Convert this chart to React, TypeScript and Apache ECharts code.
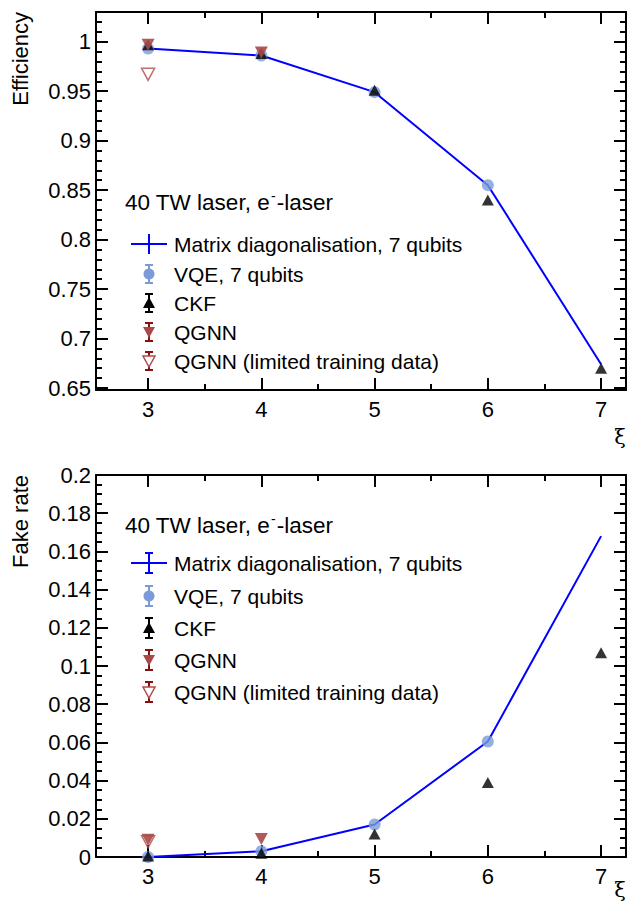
import React, { useEffect, useRef } from 'react';
import * as echarts from 'echarts';

// ---- data ----
const xiValues = [3, 4, 5, 6, 7];
const effMatrix = [0.993, 0.986, 0.949, 0.855, 0.674];
const effVQE = [0.993, 0.986, 0.949, 0.855];
const effCKF = [0.997, 0.988, 0.951, 0.84, 0.67];
const effQGNN = [0.997, 0.989];
const effQGNNLimited = [0.967];
const fakeMatrix = [0.0, 0.003, 0.017, 0.0605, 0.168];
const fakeVQE = [0.0, 0.003, 0.017, 0.0605];
const fakeCKF = [0.0005, 0.002, 0.012, 0.039, 0.107];
const fakeQGNN = [0.009, 0.0094];
const fakeQGNNLimited = [0.008];

// ---- ticks ----
const xMajor = [3, 4, 5, 6, 7];
const xMinor = [3.5, 4.5, 5.5, 6.5];
const effMajor = [0.65, 0.7, 0.75, 0.8, 0.85, 0.9, 0.95, 1];
const fakeMajor = [0, 0.02, 0.04, 0.06, 0.08, 0.1, 0.12, 0.14, 0.16, 0.18, 0.2];

const X_MIN = 2.54;
const X_MAX = 7.22;
const EFF_MIN = 0.648;
const EFF_MAX = 1.03;
const FAKE_MIN = 0;
const FAKE_MAX = 0.2;

const FONT = '"Liberation Sans", Arial, Helvetica, sans-serif';

const r4 = (v: number) => Math.round(v * 10000) / 10000;
const effMinor: number[] = [];
for (let i = 66; i <= 103; i++) if (i % 5 !== 0) effMinor.push(r4(i / 100));
const fakeMinor: number[] = [];
for (let i = 1; i < 40; i++) if (i % 4 !== 0) fakeMinor.push(r4(i * 0.005));

const pts = (ys: number[]) => ys.map((y, i) => [xiValues[i], y]);

const BLUE = '#0000ff';
const VQE_C = '#7b9bd8';
const QGNN_C = '#a84848';
const QGNN_BAR = '#8b0d0d';

function makeAxes(kind: 'x' | 'y', grid: number, min: number, max: number, major: number[], minor: number[]) {
  const isX = kind === 'x';
  const base = {
    type: 'value',
    gridIndex: grid,
    min,
    max,
    splitLine: { show: false },
    axisLine: { show: false, onZero: false },
    axisLabel: { show: false },
    axisTick: { show: false },
  };
  const mk = (pos: string, vals: number[], len: number, withLine: boolean, withLabel: boolean) => ({
    ...base,
    position: pos,
    axisLine: { show: withLine, onZero: false, lineStyle: { color: '#000', width: 2 } },
    axisTick: {
      show: true,
      inside: true,
      length: len,
      customValues: vals,
      lineStyle: { color: '#000', width: 2 },
    },
    axisLabel: withLabel
      ? {
          show: true,
          customValues: vals,
          fontSize: 22,
          fontFamily: FONT,
          color: '#000',
          margin: isX ? 8 : 5,
          formatter: (v: number) => String(+Number(v).toFixed(3)),
        }
      : { show: false, customValues: vals },
  });
  const p1 = isX ? 'bottom' : 'left';
  const p2 = isX ? 'top' : 'right';
  return [
    mk(p1, major, 12, true, true),
    mk(p1, minor, 6, false, false),
    mk(p2, major, 12, true, false),
    mk(p2, minor, 6, false, false),
  ];
}

function seriesFor(grid: number, m: number[], v: number[], c: number[], q: number[], ql: number[]) {
  const xi = grid * 4;
  const yi = grid * 4;
  return [
    {
      name: 'Matrix diagonalisation, 7 qubits',
      type: 'line',
      xAxisIndex: xi,
      yAxisIndex: yi,
      data: pts(m),
      showSymbol: false,
      symbol: 'none',
      lineStyle: { color: BLUE, width: 2 },
      itemStyle: { color: BLUE },
      z: 2,
    },
    {
      name: 'VQE, 7 qubits',
      type: 'scatter',
      xAxisIndex: xi,
      yAxisIndex: yi,
      data: pts(v),
      symbol: 'circle',
      symbolSize: 12,
      itemStyle: { color: VQE_C },
      z: 3,
    },
    {
      name: 'CKF',
      type: 'scatter',
      xAxisIndex: xi,
      yAxisIndex: yi,
      data: pts(c),
      symbol: 'triangle',
      symbolSize: [12, 11],
      itemStyle: { color: '#000' },
      z: 4,
    },
    {
      name: 'QGNN',
      type: 'scatter',
      xAxisIndex: xi,
      yAxisIndex: yi,
      data: pts(q),
      symbol: 'triangle',
      symbolRotate: 180,
      symbolSize: [13, 12],
      itemStyle: { color: QGNN_C, opacity: 0.9 },
      z: 5,
    },
    {
      name: 'QGNN (limited training data)',
      type: 'scatter',
      xAxisIndex: xi,
      yAxisIndex: yi,
      data: pts(ql),
      symbol: 'triangle',
      symbolRotate: 180,
      symbolSize: [13, 12],
      itemStyle: { color: 'rgba(255,255,255,0)', borderColor: '#b04a4a', borderWidth: 1.5 },
      z: 6,
    },
  ];
}

const LEGEND_NAMES = [
  'Matrix diagonalisation, 7 qubits',
  'VQE, 7 qubits',
  'CKF',
  'QGNN',
  'QGNN (limited training data)',
];

function legendGraphics(titleY: number, rows: number[], half: number, matrixCaps: boolean) {
  const gx = 149;
  const tx = 174;
  const els: any[] = [];
  els.push({
    type: 'text',
    x: 125,
    y: titleY,
    style: {
      text: '{a|40 TW laser, e}{s|-}{a|-laser}',
      fontFamily: FONT,
      fill: '#000',
      verticalAlign: 'middle',
      rich: {
        a: { fontSize: 22.5, fontFamily: FONT, fill: '#000', lineHeight: 26 },
        s: { fontSize: 14, fontFamily: FONT, fill: '#000', verticalAlign: 'top', lineHeight: 26, padding: [0, 1, 0, 1] },
      },
    },
  });
  const bar = (y: number, h: number, color: string, caps: boolean) => {
    const out: any[] = [
      { type: 'line', shape: { x1: gx, y1: y - h, x2: gx, y2: y + h }, style: { stroke: color, lineWidth: 2 } },
    ];
    if (caps) {
      out.push({ type: 'line', shape: { x1: gx - 4, y1: y - h, x2: gx + 4, y2: y - h }, style: { stroke: color, lineWidth: 2 } });
      out.push({ type: 'line', shape: { x1: gx - 4, y1: y + h, x2: gx + 4, y2: y + h }, style: { stroke: color, lineWidth: 2 } });
    }
    return out;
  };
  const triUp = (y: number) => [[gx - 6, y + 5], [gx + 6, y + 5], [gx, y - 6]];
  const triDown = (y: number) => [[gx - 6, y - 5], [gx + 6, y - 5], [gx, y + 6]];
  // Matrix
  els.push({ type: 'line', shape: { x1: 131, y1: rows[0], x2: 167, y2: rows[0] }, style: { stroke: BLUE, lineWidth: 2 } });
  els.push(...bar(rows[0], 10, BLUE, matrixCaps));
  // VQE
  els.push(...bar(rows[1], half, VQE_C, true));
  els.push({ type: 'circle', shape: { cx: gx, cy: rows[1], r: 5.5 }, style: { fill: VQE_C } });
  // CKF
  els.push(...bar(rows[2], half, '#000', true));
  els.push({ type: 'polygon', shape: { points: triUp(rows[2]) }, style: { fill: '#000' } });
  // QGNN
  els.push(...bar(rows[3], half, QGNN_BAR, true));
  els.push({ type: 'polygon', shape: { points: triDown(rows[3]) }, style: { fill: QGNN_C } });
  // QGNN limited
  els.push(...bar(rows[4], half, QGNN_BAR, true));
  els.push({ type: 'polygon', shape: { points: triDown(rows[4]) }, style: { fill: '#fff', stroke: '#b04a4a', lineWidth: 1.5 } });
  rows.forEach((y, i) => {
    els.push({
      type: 'text',
      x: tx,
      y,
      style: { text: LEGEND_NAMES[i], fontSize: 21, fontFamily: FONT, fill: '#000', verticalAlign: 'middle' },
    });
  });
  return els;
}

export default function App() {
  const ref = useRef<HTMLDivElement>(null);
  useEffect(() => {
    if (!ref.current) return;
    const chart = echarts.init(ref.current, undefined, { renderer: 'svg' });
    const option: any = {
      animation: false,
      backgroundColor: '#fff',
      grid: [
        { left: 96, top: 12, width: 530, height: 378 },
        { left: 96, top: 475, width: 530, height: 382 },
      ],
      xAxis: [
        ...makeAxes('x', 0, X_MIN, X_MAX, xMajor, xMinor),
        ...makeAxes('x', 1, X_MIN, X_MAX, xMajor, xMinor),
      ],
      yAxis: [
        ...makeAxes('y', 0, EFF_MIN, EFF_MAX, effMajor, effMinor),
        ...makeAxes('y', 1, FAKE_MIN, FAKE_MAX, fakeMajor, fakeMinor),
      ],
      series: [
        ...seriesFor(0, effMatrix, effVQE, effCKF, effQGNN, effQGNNLimited),
        ...seriesFor(1, fakeMatrix, fakeVQE, fakeCKF, fakeQGNN, fakeQGNNLimited),
      ],
      graphic: [
        {
          type: 'text',
          x: 20,
          y: 12,
          rotation: Math.PI / 2,
          style: { text: 'Efficiency', fontSize: 22, fontFamily: FONT, fill: '#000', align: 'right', verticalAlign: 'middle' },
        },
        {
          type: 'text',
          x: 20,
          y: 475,
          rotation: Math.PI / 2,
          style: { text: 'Fake rate', fontSize: 22, fontFamily: FONT, fill: '#000', align: 'right', verticalAlign: 'middle' },
        },
        {
          type: 'text',
          x: 620,
          y: 437,
          style: { text: 'ξ', fontSize: 21, fontFamily: '"DejaVu Serif", serif', fill: '#000', align: 'center', verticalAlign: 'middle' },
        },
        {
          type: 'text',
          x: 620,
          y: 890,
          style: { text: 'ξ', fontSize: 21, fontFamily: '"DejaVu Serif", serif', fill: '#000', align: 'center', verticalAlign: 'middle' },
        },
        ...legendGraphics(202, [244, 274, 303, 332, 361], 9, false),
        ...legendGraphics(525, [563, 596, 628, 660, 692], 10, true),
      ],
    };
    chart.setOption(option);
    return () => chart.dispose();
  }, []);
  return <div ref={ref} style={{ position: 'absolute', left: 0, top: 0, width: 627, height: 913 }} />;
}
